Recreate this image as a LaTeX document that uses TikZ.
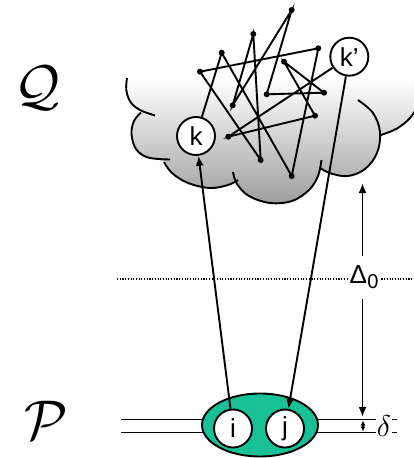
\RequirePackage{fix-cm}
\documentclass[tikz,border=0pt]{standalone}
\usepackage{fontspec}
\setsansfont{Liberation Sans}
\usetikzlibrary{arrows.meta,shapes.geometric}
\definecolor{tealg}{RGB}{24,192,150}
\begin{document}
\begin{tikzpicture}[x=1pt,y=-1pt,line width=1.9pt,
  wdot/.style={circle,fill=black,inner sep=0pt,minimum size=6pt},
  ball/.style={circle,draw,fill=white,line width=1.9pt,minimum size=38pt,inner sep=0pt,
    font=\sffamily\fontsize{26}{26}\selectfont},
  arr/.style={-{Latex[length=10pt,width=8pt]}},
  sarr/.style={{Latex[length=5pt,width=5pt]}-{Latex[length=5pt,width=5pt]}},
  lobe/.style={line width=1.9pt},
  dotl/.style={line width=1.1pt,dash pattern=on 1.1pt off 1.6pt},
  bigl/.style={font=\fontsize{56}{56}\selectfont},
]
\useasboundingbox (0,0) rectangle (414,458);
% cloud fill
\shade[top color=white,bottom color=black!38]
  (127,78) -- plot[smooth,tension=0.6] coordinates {(127,78) (126.3,90) (130.5,102) (141,111.5)}
  -- plot[smooth,tension=0.6] coordinates {(141,112.5) (134,121) (131.5,134) (136,149) (148,157.5) (165,161)}
  -- plot[smooth,tension=0.6] coordinates {(165,161) (172,173) (188,183) (210,188) (228,185) (236,181)}
  -- plot[smooth,tension=0.6] coordinates {(236,181) (249,196) (270,203) (292,201) (309,190) (318,176) (320.5,168)}
  -- plot[smooth,tension=0.6] coordinates {(320.5,168) (331,173.5) (348,176) (365,169) (377,153) (380.5,134)}
  -- plot[smooth,tension=0.6] coordinates {(380.5,134) (397,128.5) (410,118) (418,106)}
  -- (420,78) -- cycle;
% cloud outline lobes
\draw[lobe] plot[smooth,tension=0.6] coordinates {(127,78) (126.3,90) (130.5,102) (140,110) (155,115.5)};
\draw[lobe] plot[smooth,tension=0.6] coordinates {(141,112.5) (134,121) (131.5,134) (136,149) (148,157.5) (170,159.5)};
\draw[lobe] plot[smooth,tension=0.6] coordinates {(164,162) (172,173) (188,183) (210,188) (228,185) (238,180)};
\draw[lobe] plot[smooth,tension=0.6] coordinates {(233,172) (237,184) (249,196) (270,203) (292,201) (309,190) (318,176) (321.5,160)};
\draw[lobe] plot[smooth,tension=0.6] coordinates {(320,168) (331,173.5) (348,176) (365,169) (377,153) (380,132) (373,113) (358,100)};
\draw[lobe] plot[smooth,tension=0.6] coordinates {(381,135) (397,128.5) (410,118) (418,106)};

% random walk
\node[wdot] (A) at (221.7,52.7) {};
\node[wdot] (B) at (291.7,176) {};
\node[wdot] (C) at (318.3,48.3) {};
\node[wdot] (D) at (200,71.7) {};
\node[wdot] (E) at (260.7,160) {};
\node[wdot] (F) at (253.3,34) {};
\node[wdot] (G) at (232.7,105.3) {};
\node[wdot] (H) at (291.7,10) {};
\node[wdot] (I) at (266.7,94.3) {};
\node[wdot] (J) at (324,92.7) {};
\node[wdot] (K) at (284,61.7) {};
\node[wdot] (L) at (315,115.7) {};
\node[wdot] (M) at (228.3,136.7) {};
\node[ball] (k) at (196,136) {k};
\node[ball] (kp) at (349.3,56.7) {k\textquoteright};
\draw (k) -- (A.center) -- (B.center) -- (C.center) -- (D.center) -- (E.center) -- (F.center)
  -- (G.center) -- (H.center) -- (I.center) -- (J.center) -- (K.center) -- (L.center) -- (M.center) -- (kp);

% dotted level
\node[minimum width=33pt,minimum height=42pt,inner sep=0pt,
  font=\sffamily\fontsize{26}{26}\selectfont] (D0) at (364,277.5) {Δ\kern0.5pt\raisebox{-5pt}{\fontsize{20}{20}\selectfont 0}};
\coordinate (dl) at (117,279);
\coordinate (dr) at (414,279);
\draw[dotl] (dl) -- (D0.west |- dl);
\draw[dotl] (D0.east |- dr) -- (dr);
\coordinate (dtop) at (362.5,183);
\coordinate (dbot) at (362.5,417);
\draw[arr] (D0.north -| dtop) -- (dtop);
\draw[arr] (D0.south -| dbot) -- (dbot);

% levels P
\coordinate (l1a) at (121,419.5);
\coordinate (l1b) at (397,419.5);
\coordinate (l2a) at (121,432.5);
\coordinate (l2b) at (397,432.5);
\draw (l1a) -- (l1b);
\draw (l2a) -- (l2b);
\node[fill=white,inner sep=0.5pt,font=\fontsize{30}{30}\selectfont] (del) at (384,426) {$\delta$};
\coordinate (s1) at (363,420.5);
\coordinate (s2) at (363,431.5);
\draw[sarr,line width=1.1pt] (s1) -- (s2);

\node[ellipse,draw,fill=tealg,line width=1.9pt,minimum width=116pt,minimum height=63pt,inner sep=0pt] (ell) at (260,425) {};
\node[ball] (i) at (233,428.5) {i};
\node[ball] (j) at (285,428.5) {j};

\draw[arr] (i) -- (k);
\draw[arr] (kp) -- (j);

\node[bigl] (Q) at (37,88) {$\mathcal{Q}$};
\node[bigl] (P) at (46,420) {$\mathcal{P}$};
\end{tikzpicture}
\end{document}
